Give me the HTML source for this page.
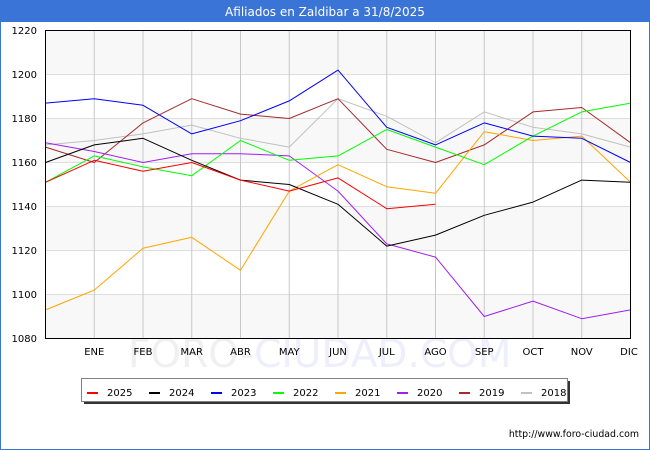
<!DOCTYPE html>
<html><head><meta charset="utf-8"><style>
html,body{margin:0;padding:0;background:#fff;}
svg{display:block;font-family:"DejaVu Sans","Liberation Sans",sans-serif;}
</style></head><body>
<svg width="650" height="450" viewBox="0 0 650 450" xmlns="http://www.w3.org/2000/svg">
<rect x="0" y="0" width="650" height="450" fill="#fff"/>
<rect x="0.5" y="0.5" width="649" height="449" fill="none" stroke="#3a74d6" stroke-width="1"/>
<rect x="0" y="0" width="650" height="22" fill="#3a74d6"/>
<text x="325" y="16" font-size="12" fill="#fff" text-anchor="middle">Afiliados en Zaldibar a 31/8/2025</text>

<!-- plot bands -->
<rect x="45.5" y="30.5" width="585" height="308" fill="#fff"/>
<rect x="45.5" y="30.5" width="585" height="44" fill="#f8f8f8"/>
<rect x="45.5" y="118.5" width="585" height="44" fill="#f8f8f8"/>
<rect x="45.5" y="206.5" width="585" height="44" fill="#f8f8f8"/>
<rect x="45.5" y="294.5" width="585" height="44" fill="#f8f8f8"/>

<!-- watermark -->
<text x="128" y="367" font-size="39" fill="#f0f0f0" font-family="DejaVu Sans,sans-serif" style="font-weight:normal">FORO-<tspan fill="#eeeefc">CIUDAD.COM</tspan></text>

<!-- horizontal grid -->
<g stroke="#dddddd" stroke-width="1">
<line x1="45.5" y1="74.5" x2="630.5" y2="74.5"/>
<line x1="45.5" y1="118.5" x2="630.5" y2="118.5"/>
<line x1="45.5" y1="162.5" x2="630.5" y2="162.5"/>
<line x1="45.5" y1="206.5" x2="630.5" y2="206.5"/>
<line x1="45.5" y1="250.5" x2="630.5" y2="250.5"/>
<line x1="45.5" y1="294.5" x2="630.5" y2="294.5"/>
</g>
<!-- vertical grid -->
<g stroke="#c8c8c8" stroke-width="1">
<line x1="94.25" y1="30.5" x2="94.25" y2="338.5"/>
<line x1="143" y1="30.5" x2="143" y2="338.5"/>
<line x1="191.75" y1="30.5" x2="191.75" y2="338.5"/>
<line x1="240.5" y1="30.5" x2="240.5" y2="338.5"/>
<line x1="289.25" y1="30.5" x2="289.25" y2="338.5"/>
<line x1="338" y1="30.5" x2="338" y2="338.5"/>
<line x1="386.75" y1="30.5" x2="386.75" y2="338.5"/>
<line x1="435.5" y1="30.5" x2="435.5" y2="338.5"/>
<line x1="484.25" y1="30.5" x2="484.25" y2="338.5"/>
<line x1="533" y1="30.5" x2="533" y2="338.5"/>
<line x1="581.75" y1="30.5" x2="581.75" y2="338.5"/>
</g>

<!-- series -->
<g fill="none" stroke-width="1" stroke-linejoin="round">
<polyline stroke="#c0c0c0" points="45.5,144.9 94.25,140.5 143,133.9 191.75,125.1 240.5,138.3 289.25,147.1 338,98.7 386.75,116.3 435.5,142.7 484.25,111.9 533,127.3 581.75,133.9 630.5,147.1"/>
<polyline stroke="#a52a2a" points="45.5,147.1 94.25,162.5 143,122.9 191.75,98.7 240.5,114.1 289.25,118.5 338,98.7 386.75,149.3 435.5,162.5 484.25,144.9 533,111.9 581.75,107.5 630.5,142.7"/>
<polyline stroke="#a020f0" points="45.5,142.7 94.25,151.5 143,162.5 191.75,153.7 240.5,153.7 289.25,155.9 338,191.1 386.75,243.9 435.5,257.1 484.25,316.5 533,301.1 581.75,318.7 630.5,309.9"/>
<polyline stroke="#ffa500" points="45.5,309.9 94.25,290.1 143,248.3 191.75,237.3 240.5,270.3 289.25,191.1 338,164.7 386.75,186.7 435.5,193.3 484.25,131.7 533,140.5 581.75,136.1 630.5,182.3"/>
<polyline stroke="#00ff00" points="45.5,182.3 94.25,155.9 143,166.9 191.75,175.7 240.5,140.5 289.25,160.3 338,155.9 386.75,129.5 435.5,147.1 484.25,164.7 533,136.1 581.75,111.9 630.5,103.1"/>
<polyline stroke="#0000ff" points="45.5,103.1 94.25,98.7 143,105.3 191.75,133.9 240.5,120.7 289.25,100.9 338,70.1 386.75,127.3 435.5,144.9 484.25,122.9 533,136.1 581.75,138.3 630.5,162.5"/>
<polyline stroke="#000000" points="45.5,162.5 94.25,144.9 143,138.3 191.75,160.3 240.5,180.1 289.25,184.5 338,204.3 386.75,246.1 435.5,235.1 484.25,215.3 533,202.1 581.75,180.1 630.5,182.3"/>
<polyline stroke="#ff0000" points="45.5,182.3 94.25,160.3 143,171.3 191.75,162.5 240.5,180.1 289.25,191.1 338,177.9 386.75,208.7 435.5,204.3"/>
</g>

<!-- frame -->
<rect x="45.5" y="30.5" width="585" height="308" fill="none" stroke="#000" stroke-width="1"/>

<!-- y labels -->
<g font-size="10" fill="#000" text-anchor="end">
<text x="37" y="34">1220</text>
<text x="37" y="78">1200</text>
<text x="37" y="122">1180</text>
<text x="37" y="166">1160</text>
<text x="37" y="210">1140</text>
<text x="37" y="254">1120</text>
<text x="37" y="298">1100</text>
<text x="37" y="342">1080</text>
</g>
<!-- x labels -->
<g font-size="10" fill="#000" text-anchor="middle">
<text x="94.25" y="355">ENE</text>
<text x="143" y="355">FEB</text>
<text x="191.75" y="355">MAR</text>
<text x="240.5" y="355">ABR</text>
<text x="289.25" y="355">MAY</text>
<text x="338" y="355">JUN</text>
<text x="386.75" y="355">JUL</text>
<text x="435.5" y="355">AGO</text>
<text x="484.25" y="355">SEP</text>
<text x="533" y="355">OCT</text>
<text x="581.75" y="355">NOV</text>
<text x="629" y="355">DIC</text>
</g>

<!-- legend -->
<rect x="84" y="381" width="486" height="23" fill="#333"/>
<rect x="81.5" y="378.5" width="486" height="23" fill="#fff" stroke="#808080" stroke-width="1"/>
<g stroke-width="2">
<line x1="87" y1="393" x2="98" y2="393" stroke="#ff0000"/>
<line x1="149" y1="393" x2="160" y2="393" stroke="#000000"/>
<line x1="211" y1="393" x2="222" y2="393" stroke="#0000ff"/>
<line x1="273" y1="393" x2="284" y2="393" stroke="#00ff00"/>
<line x1="335" y1="393" x2="346" y2="393" stroke="#ffa500"/>
<line x1="397" y1="393" x2="408" y2="393" stroke="#a020f0"/>
<line x1="459" y1="393" x2="470" y2="393" stroke="#a52a2a"/>
<line x1="521" y1="393" x2="532" y2="393" stroke="#c0c0c0"/>
</g>
<g font-size="10" fill="#000">
<text x="107" y="396">2025</text>
<text x="169" y="396">2024</text>
<text x="231" y="396">2023</text>
<text x="293" y="396">2022</text>
<text x="355" y="396">2021</text>
<text x="417" y="396">2020</text>
<text x="479" y="396">2019</text>
<text x="541" y="396">2018</text>
</g>

<text x="639" y="437" font-size="9.4" fill="#000" text-anchor="end">http://www.foro-ciudad.com</text>
</svg>
</body></html>
